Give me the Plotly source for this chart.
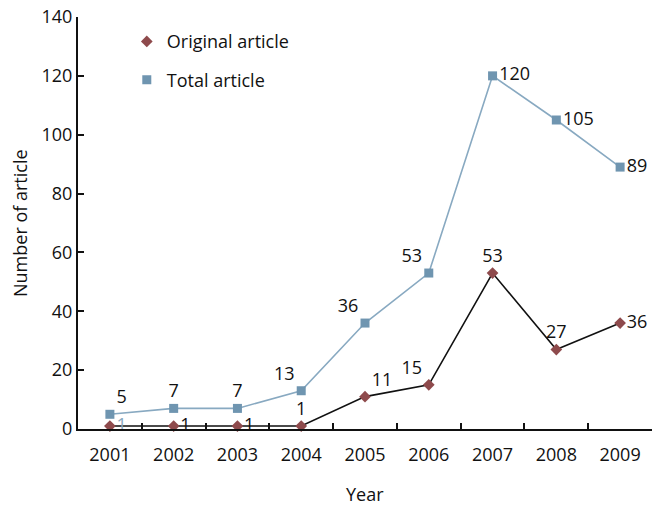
import plotly.graph_objects as go

years = ["2001", "2002", "2003", "2004", "2005", "2006", "2007", "2008", "2009"]
original = [1, 1, 1, 1, 11, 15, 53, 27, 36]
total = [5, 7, 7, 13, 36, 53, 120, 105, 89]

orig_pos = ["middle right", "middle right", "middle right", "top center", "top right",
            "top left", "top center", "top center", "middle right"]
total_pos = ["top right", "top center", "top center", "top left", "top left",
             "top left", "middle right", "middle right", "middle right"]

FONT = "Open Sans"
RED = "#8E4A4C"
BLUE_M = "#6F95B0"
BLUE_L = "#88A9C1"

fig = go.Figure()
fig.add_trace(go.Scatter(
    x=years, y=original, mode="lines+markers+text", showlegend=False,
    line=dict(color="#111111", width=1.6),
    marker=dict(symbol="diamond", size=9, color=RED),
    text=[str(v) for v in original], textposition=orig_pos,
    textfont=dict(family=FONT, size=18, color=["#8AA9BF"] + ["#111111"] * 8),
    cliponaxis=False,
))
fig.add_trace(go.Scatter(
    x=years, y=total, mode="lines+markers+text", showlegend=False,
    line=dict(color=BLUE_L, width=1.6),
    marker=dict(symbol="square", size=9, color=BLUE_M),
    text=[str(v) for v in total], textposition=total_pos,
    textfont=dict(family=FONT, size=18, color="#111111"),
    cliponaxis=False,
))
# legend entries (markers only)
fig.add_trace(go.Scatter(x=[None], y=[None], mode="markers", name="Original article",
                         legendgroup="a",
                         marker=dict(symbol="diamond", size=9, color=RED)))
fig.add_trace(go.Scatter(x=[None], y=[None], mode="markers", name="Total article",
                         legendgroup="b",
                         marker=dict(symbol="square", size=9, color=BLUE_M)))

fig.update_layout(
    width=663, height=506,
    margin=dict(l=78, r=11, t=17, b=77),
    paper_bgcolor="white", plot_bgcolor="white",
    font=dict(family=FONT, size=18, color="#111111"),
    legend=dict(x=0.085, y=0.985, xanchor="left", yanchor="top",
                bgcolor="rgba(0,0,0,0)", tracegroupgap=12, itemwidth=30,
                font=dict(family=FONT, size=18, color="#111111")),
    xaxis=dict(
        type="category", range=[-0.5, 8.5], automargin=False,
        showline=True, linecolor="#111111", linewidth=2,
        ticks="inside", tickson="boundaries", ticklen=6, tickwidth=2, tickcolor="#111111",
        showgrid=False, zeroline=False, ticklabelstandoff=8,
        tickfont=dict(family=FONT, size=18),
    ),
    yaxis=dict(
        range=[0, 140], dtick=20, automargin=False,
        showline=True, linecolor="#111111", linewidth=2,
        ticks="inside", ticklen=6, tickwidth=2, tickcolor="#111111",
        showgrid=False, zeroline=False,
        tickfont=dict(family=FONT, size=18),
    ),
    annotations=[
        dict(text="Year", xref="paper", yref="paper", x=0.5, y=0, yshift=-65,
             xanchor="center", yanchor="middle", showarrow=False,
             font=dict(family=FONT, size=18, color="#111111")),
        dict(text="Number of article", xref="paper", yref="paper", x=0, y=0.5, xshift=-58,
             xanchor="center", yanchor="middle", textangle=-90, showarrow=False,
             font=dict(family=FONT, size=18, color="#111111")),
    ],
)

fig.write_html("out.html")
